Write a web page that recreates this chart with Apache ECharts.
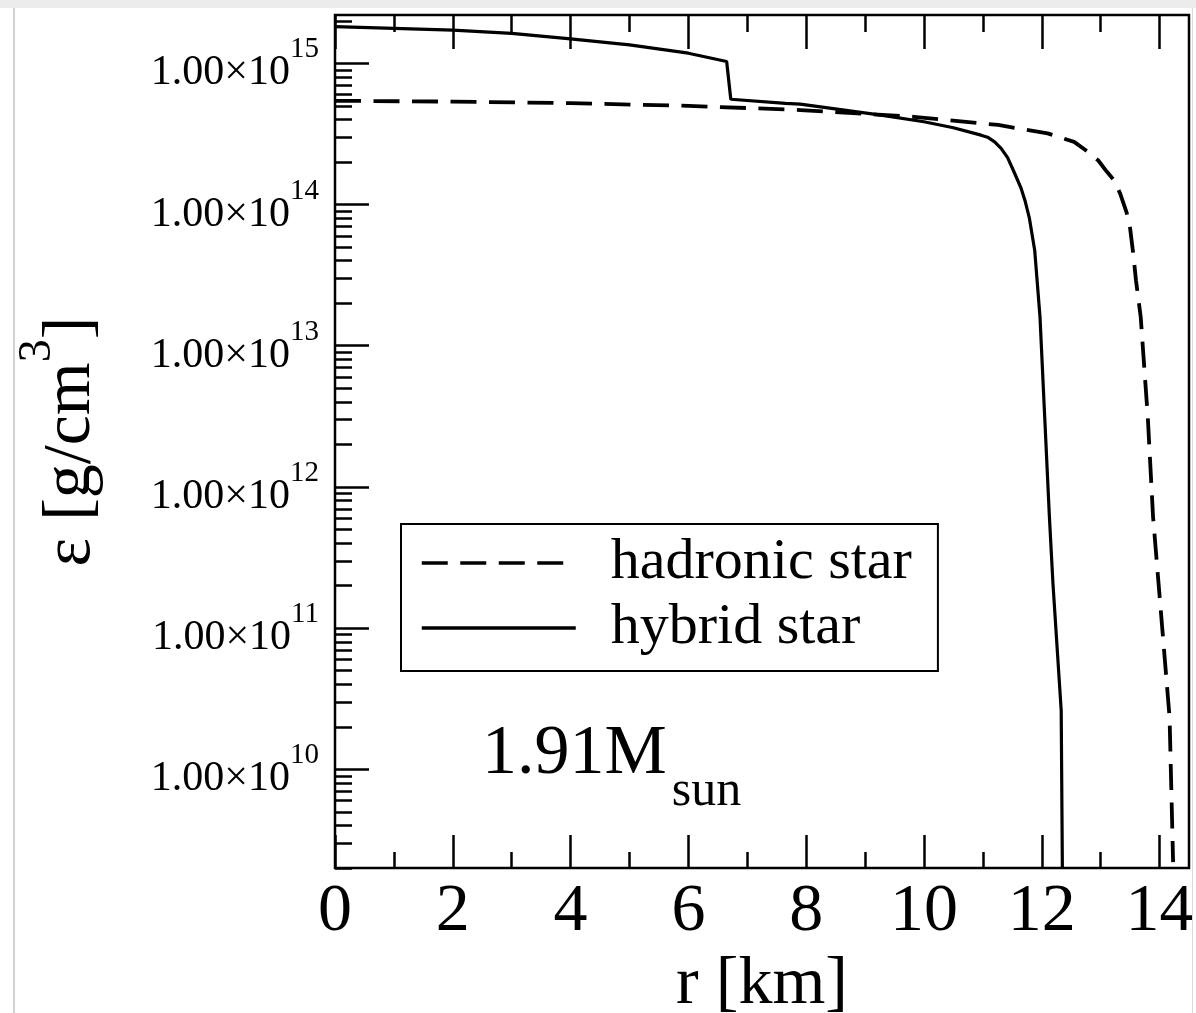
<!DOCTYPE html>
<html>
<head>
<meta charset="utf-8">
<script src="https://cdn.jsdelivr.net/npm/echarts@6/dist/echarts.min.js"></script>
<style>
  html, body { margin: 0; padding: 0; background: #fff; }
  #chart { width: 1196px; height: 1013px; }
  .edge { position: absolute; pointer-events: none; }
</style>
</head>
<body>
<div id="chart"></div>
<div class="edge" style="left:0;top:0;width:1196px;height:8px;background:#ececec;"></div>
<div class="edge" style="left:13px;top:8px;width:2px;height:1005px;background:#d2d2d2;"></div>
<div class="edge" style="left:1192px;top:8px;width:1px;height:1005px;background:#d8d8d8;"></div>
<script>
// radius in km, energy density in g/cm^3
var hybridR   = [0, 1, 2, 3, 4, 5, 6, 6.65, 6.72, 7.65, 7.9, 9.27, 10.0, 10.5, 10.97, 11.08, 11.2, 11.31, 11.42, 11.53, 11.65, 11.72, 11.79, 11.88, 11.97, 12.05, 12.13, 12.19, 12.33, 12.35];
var hybridEps = [1.82e15, 1.77e15, 1.72e15, 1.63e15, 1.49e15, 1.35e15, 1.18e15, 1.03e15, 5.57e14, 5.2e14, 5.14e14, 4.3e14, 3.86e14, 3.5e14, 3.1e14, 3.0e14, 2.78e14, 2.5e14, 2.15e14, 1.7e14, 1.3e14, 1.05e14, 8.0e13, 4.75e13, 1.6e13, 3.13e12, 6.12e11, 2.07e11, 2.62e10, 2e9];

var hadronR   = [0, 2, 4, 6, 7.9, 9.83, 11.26, 12.1, 12.55, 12.79, 12.96, 13.1, 13.22, 13.33, 13.44, 13.5, 13.55, 13.6, 13.68, 13.8, 13.89, 14.03, 14.17, 14.23];
var hadronEps = [5.43e14, 5.36e14, 5.22e14, 5.0e14, 4.67e14, 4.18e14, 3.66e14, 3.19e14, 2.78e14, 2.35e14, 2.05e14, 1.72e14, 1.5e14, 1.2e14, 8.8e13, 6.8e13, 4.6e13, 2.9e13, 1.6e13, 3.13e12, 6.12e11, 1.2e11, 2.34e10, 2.2e9];

var xMajor = [0, 2, 4, 6, 8, 10, 12, 14];
var xMinor = [1, 3, 5, 7, 9, 11, 13];
var yMajor = [1e10, 1e11, 1e12, 1e13, 1e14, 1e15];
var yMinor = [];
for (var d = 9; d <= 15; d++) {
    for (var k = 2; k <= 9; k++) {
        var v = k * Math.pow(10, d);
        if (v >= 2e9 && v <= 2.2e15) yMinor.push(v);
    }
}

var FONT = 'Liberation Serif';
var tickLine = { color: '#000', width: 2.5 };

function xAxisOf(pos, ticks, len, withLabels) {
    var ax = {
        type: 'value', min: 0, max: 14.5, position: pos,
        axisLine: { show: false },
        splitLine: { show: false },
        axisTick: { show: true, inside: true, length: len, customValues: ticks, lineStyle: tickLine },
        axisLabel: { show: false }
    };
    if (withLabels) {
        ax.axisLabel = {
            show: true, customValues: ticks, margin: 10,
            fontSize: 68, lineHeight: 68, fontFamily: FONT, color: '#000'
        };
        ax.name = 'r [km]';
        ax.nameLocation = 'middle';
        ax.nameGap = 75;
        ax.nameTextStyle = { fontSize: 68, lineHeight: 68, fontFamily: FONT, color: '#000' };
    }
    return ax;
}

function yAxisOf(ticks, len, withLabels) {
    var ax = {
        type: 'log', logBase: 10, min: 2e9, max: 2.2e15, position: 'left',
        axisLine: { show: false },
        splitLine: { show: false },
        axisTick: { show: true, inside: true, length: len, customValues: ticks, lineStyle: tickLine },
        axisLabel: { show: false }
    };
    if (withLabels) {
        ax.axisLabel = {
            show: true, customValues: ticks, margin: 16,
            formatter: function (val) {
                return '{b|1.00×10}{s|' + Math.round(Math.log10(val)) + '}';
            },
            rich: {
                b: { fontSize: 42, lineHeight: 62, fontFamily: FONT, color: '#000', verticalAlign: 'bottom' },
                s: { fontSize: 29, lineHeight: 62, fontFamily: FONT, color: '#000', verticalAlign: 'top', padding: [3, 0, 0, 0] }
            }
        };
        ax.name = '{a|ε [g/cm}{s|3}{a|]}';
        ax.nameLocation = 'middle';
        ax.nameRotate = 90;
        ax.nameGap = 230;
        ax.nameTextStyle = {
            rich: {
                a: { fontSize: 68, lineHeight: 90, fontFamily: FONT, color: '#000', verticalAlign: 'bottom' },
                s: { fontSize: 46, lineHeight: 90, fontFamily: FONT, color: '#000', verticalAlign: 'top' }
            }
        };
    }
    return ax;
}

var chart = echarts.init(document.getElementById('chart'));
var option = {
    animation: false,
    backgroundColor: 'transparent',
    grid: {
        left: 335, right: 7, top: 15, bottom: 145,
        show: true, borderColor: '#000', borderWidth: 2.5,
        containLabel: false, outerBoundsMode: 'none'
    },
    title: {
        text: '{m|1.91M}{s|sun}',
        left: 482, top: 720, padding: 0,
        textStyle: {
            rich: {
                m: { fontSize: 70, lineHeight: 97, fontFamily: FONT, fontWeight: 'normal', color: '#000', verticalAlign: 'top' },
                s: { fontSize: 50, lineHeight: 97, fontFamily: FONT, fontWeight: 'normal', color: '#000', verticalAlign: 'bottom', padding: [0, 0, 0, 5] }
            }
        }
    },
    legend: {
        data: ['hadronic star', 'hybrid star'],
        orient: 'vertical',
        left: 401, top: 524,
        itemWidth: 154, itemHeight: 20, itemGap: 7,
        padding: [10, 26, 14, 19],
        borderColor: '#000', borderWidth: 2, borderRadius: 0,
        selectedMode: false,
        itemStyle: { opacity: 0 },
        lineStyle: { width: 3.5 },
        textStyle: { fontSize: 58, lineHeight: 50, fontFamily: FONT, color: '#000', padding: [0, 0, 0, 30] }
    },
    xAxis: [
        xAxisOf('bottom', xMajor, 33, true),
        xAxisOf('bottom', xMinor, 16, false),
        xAxisOf('top', xMajor, 34, false),
        xAxisOf('top', xMinor, 17, false)
    ],
    yAxis: [
        yAxisOf(yMajor, 34, true),
        yAxisOf(yMinor, 17, false)
    ],
    series: [
        {
            name: 'hadronic star', type: 'line', xAxisIndex: 0, yAxisIndex: 0,
            symbol: 'none', showSymbol: false,
            itemStyle: { color: '#000' },
            lineStyle: { color: '#000', width: 3.8, type: [26, 12.5] },
            data: hadronR.map(function (r, i) { return [r, hadronEps[i]]; })
        },
        {
            name: 'hybrid star', type: 'line', xAxisIndex: 0, yAxisIndex: 0,
            symbol: 'none', showSymbol: false,
            itemStyle: { color: '#000' },
            lineStyle: { color: '#000', width: 3.2, type: 'solid' },
            data: hybridR.map(function (r, i) { return [r, hybridEps[i]]; })
        }
    ]
};
chart.setOption(option);
</script>
</body>
</html>
